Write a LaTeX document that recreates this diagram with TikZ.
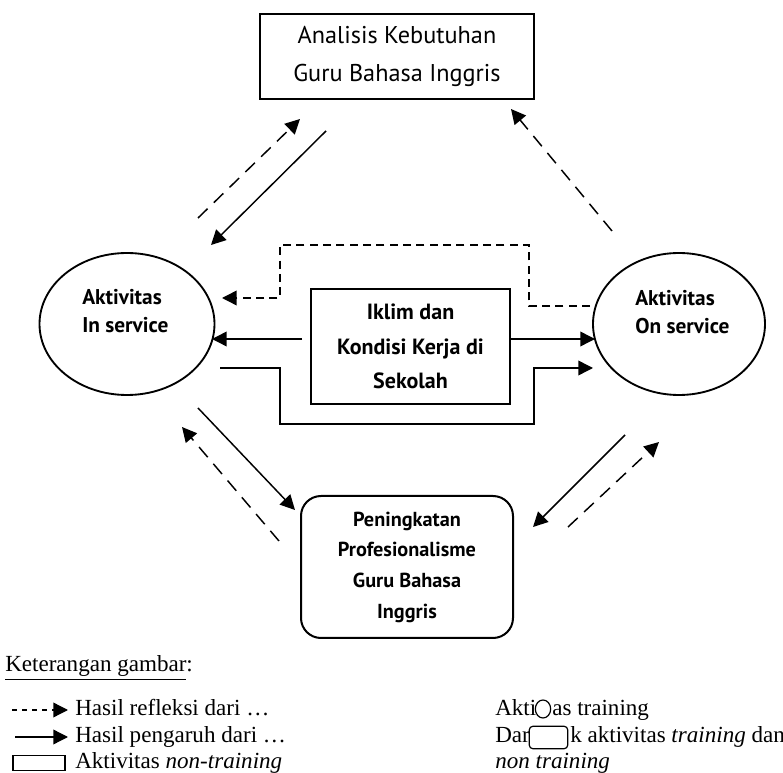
\documentclass[tikz,border=0pt]{standalone}
\usepackage{fontspec}
\setmainfont{Liberation Serif}
\newfontfamily\diag{PT Sans}
\usetikzlibrary{arrows.meta,shapes.geometric}
\tikzset{
  tip/.style={-{Triangle[length=11pt,width=11pt]}},
  conn/.style={line width=1.1pt, tip},
  dconn/.style={line width=1.1pt, tip, dash pattern=on 10pt off 6.5pt},
  delbow/.style={line width=1.1pt, tip, dash pattern=on 6pt off 4pt},
  sbox/.style={draw, line width=1.5pt, inner sep=0pt, align=center},
  oval/.style={draw, ellipse, line width=1.4pt, inner sep=0pt},
  ovaltxt/.style={anchor=west, inner sep=0pt, align=left, font=\diag\bfseries\fontsize{16}{21}\selectfont},
  legtxt/.style={anchor=base west, inner sep=0pt, font=\fontsize{17.3}{20}\selectfont},
  legtip/.style={line width=1pt, -{Triangle[length=11pt,width=11pt]}},
}
\begin{document}
\begin{tikzpicture}[x=0.75pt,y=-0.75pt]
\useasboundingbox (0,0) rectangle (783,773);
% main nodes
\node[sbox, line width=2pt, minimum width=205.5pt, minimum height=63.75pt,
  font=\diag\fontsize{18.2}{28.5}\selectfont] (top) at (397,56.5) {Analisis Kebutuhan\\Guru Bahasa Inggris};
\node[sbox, minimum width=149.25pt, minimum height=86.25pt,
  font=\diag\bfseries\fontsize{16.5}{26}\selectfont] (mid) at (410.5,346.5) {Iklim dan\\Kondisi Kerja di\\Sekolah};
\node[sbox, rounded corners=15pt, minimum width=159pt, minimum height=106.5pt,
  font=\diag\bfseries\fontsize{15.2}{23}\selectfont] (bot) at (407,567) {Peningkatan\\Profesionalisme\\Guru Bahasa\\Inggris};
\node[oval, minimum width=131.25pt, minimum height=106.5pt] (inS) at (127,324) {};
\node[oval, minimum width=129pt, minimum height=106.5pt] (onS) at (679,324) {};
\node[ovaltxt] (inT) at (82,311) {Aktivitas\\In service};
\node[ovaltxt] (onT) at (635,312.5) {Aktivitas\\On service};
% connector end points
\coordinate (a1) at (198,218); \coordinate (a2) at (300,119);
\coordinate (b1) at (326,131); \coordinate (b2) at (211,245);
\coordinate (c1) at (612,231); \coordinate (c2) at (511,109);
\coordinate (d1) at (198,408); \coordinate (d2) at (295,510);
\coordinate (e1) at (279,541); \coordinate (e2) at (182,427);
\coordinate (f1) at (625,435); \coordinate (f2) at (533,527);
\coordinate (g1) at (568,527); \coordinate (g2) at (659,442);
\coordinate (h1) at (590,306); \coordinate (h2) at (222,298);
\coordinate (i1) at (302,339); \coordinate (i2) at (212,339);
\coordinate (j2) at (595,339);
\coordinate (k1) at (220,368); \coordinate (k2) at (593,368);
% connectors
\draw[dconn] (a1) -- (a2);
\draw[conn] (b1) -- (b2);
\draw[dconn] (c1) -- (c2);
\draw[conn] (d1) -- (d2);
\draw[dconn] (e1) -- (e2);
\draw[conn] (f1) -- (f2);
\draw[dconn] (g1) -- (g2);
\draw[delbow] (h1) -- (529,306) -- (529,245) -- (280,245) -- (280,298) -- (h2);
\draw[conn] (i1) -- (i2);
\draw[conn] (mid.east |- j2) -- (j2);
\draw[conn] (k1) -- (280,368) -- (280,424) -- (534,424) -- (534,368) -- (k2);
% legend
\node[legtxt] (ket) at (5,672) {\underline{Keterangan gambar}:};
\coordinate (l1a) at (12,710); \coordinate (l1b) at (68,710);
\coordinate (l2a) at (15,737); \coordinate (l2b) at (68,737);
\draw[legtip, dash pattern=on 4pt off 3.5pt] (l1a) -- (l1b);
\draw[legtip] (l2a) -- (l2b);
\node[draw, line width=0.9pt, minimum width=39pt, minimum height=11.25pt, inner sep=0pt] (lrect) at (39,763) {};
\node[legtxt] (lt1) at (75,716) {Hasil refleksi dari \dots};
\node[legtxt] (lt2) at (75,743) {Hasil pengaruh dari \dots};
\node[legtxt] (lt3) at (75,769) {Aktivitas \textit{non-training}};
% right legend column
\node[legtxt] (rt1a) at (495,716) {Akti};
\node[draw, ellipse, line width=0.9pt, minimum width=11.5pt, minimum height=13.5pt, inner sep=0pt] (lcirc) at (543,709) {};
\node[legtxt] (rt1b) at (552,716) {as training};
\node[legtxt] (rt2a) at (495,743) {Dar};
\node[draw, rounded corners=3pt, line width=0.9pt, minimum width=29pt, minimum height=17pt, inner sep=0pt] (lrr) at (548.5,737.5) {};
\node[legtxt] (rt2b) at (570,743) {k aktivitas \textit{training} dan};
\node[legtxt] (rt3) at (495,769) {\textit{non training}};
\end{tikzpicture}
\end{document}
